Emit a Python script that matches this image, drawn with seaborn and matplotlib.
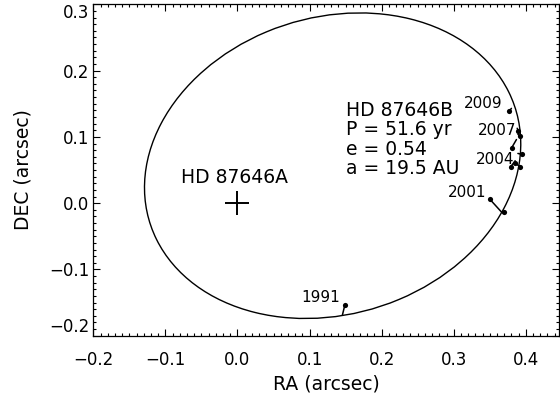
import numpy as np
import pandas as pd
import matplotlib
matplotlib.use("Agg")
import matplotlib.pyplot as plt
from matplotlib.patches import Ellipse
import seaborn as sns

# Наблюдения HD 87646B (RA, DEC в угл. сек) и соответствующие точки орбиты
obs_ra = [0.149, 0.350, 0.370, 0.379, 0.3856, 0.392, 0.394, 0.3804, 0.3895, 0.392, 0.377]
obs_dec = [-0.1535, 0.006, -0.0137, 0.055, 0.061, 0.0553, 0.0738, 0.0836, 0.1094, 0.1006, 0.139]
fit_ra = [0.1456, 0.3665, 0.3685, 0.384, 0.385, 0.385, 0.389, 0.387, 0.388, 0.389, 0.380]
fit_dec = [-0.1686, -0.0137, -0.0155, 0.062, 0.064, 0.060, 0.075, 0.096, 0.113, 0.104, 0.143]

# Подписи эпох
year_labels = ["1991", "2001", "2004", "2007", "2009"]
year_x = [0.143, 0.3455, 0.384, 0.3865, 0.367]
year_y = [-0.142, 0.016, 0.066, 0.110, 0.150]

# Параметры орбиты (эллипс на небе)
orbit_center = (0.132, 0.0565)
orbit_width = 0.5368
orbit_height = 0.4436
orbit_angle = 24.5

info_lines = ["HD 87646B", "P = 51.6 yr", "e = 0.54", "a = 19.5 AU"]
info_y = [0.1319, 0.1025, 0.0731, 0.0437]

sns.set_theme(style="ticks")
plt.rcParams['font.family'] = ['DejaVu Sans']
plt.rcParams.update({"text.color": "black", "axes.labelcolor": "black",
                     "xtick.color": "black", "ytick.color": "black",
                     "axes.edgecolor": "black"})

fig = plt.figure(figsize=(5.6, 3.99), dpi=100)
ax = fig.add_axes([0.1666, 0.1586, 0.8316, 0.8306])

# Орбита
ax.add_patch(Ellipse(orbit_center, orbit_width, orbit_height, angle=orbit_angle,
                     fill=False, color="black", lw=1.0))

# Остатки: линии от наблюдений к орбите
for x0, y0, x1, y1 in zip(obs_ra, obs_dec, fit_ra, fit_dec):
    ax.plot([x0, x1], [y0, y1], color="black", lw=1.1)

df = pd.DataFrame({"ra": obs_ra, "dec": obs_dec})
sns.scatterplot(data=df, x="ra", y="dec", ax=ax, color="black", s=14,
                edgecolor="black", linewidth=0, zorder=3)

# Главная звезда
ax.plot([0.0], [0.0], marker="+", color="black", markersize=17, mew=1.4)
ax.text(-0.078, 0.030, "HD 87646A", fontsize=13.5, ha="left", va="baseline")

for lab, x, y in zip(year_labels, year_x, year_y):
    ax.text(x, y, lab, fontsize=11, ha="right", va="center")

for line, y in zip(info_lines, info_y):
    ax.text(0.15, y, line, fontsize=13.5, ha="left", va="baseline")

ax.set_xlim(-0.2, 0.446)
ax.set_ylim(-0.2, 0.3)
ax.set_xticks([-0.2, -0.1, 0.0, 0.1, 0.2, 0.3, 0.4])
ax.set_yticks([-0.2, -0.1, 0.0, 0.1, 0.2, 0.3])
ax.set_xticklabels(["\u22120.2", "\u22120.1", "0.0", "0.1", "0.2", "0.3", "0.4"])
ax.set_yticklabels(["\u22120.2", "\u22120.1", "0.0", "0.1", "0.2", "0.3"])
ax.xaxis.set_minor_locator(matplotlib.ticker.MultipleLocator(0.01))
ax.yaxis.set_minor_locator(matplotlib.ticker.MultipleLocator(0.01))
ax.tick_params(which="both", direction="in", top=True, right=True, width=0.8, color="black")
ax.tick_params(which="major", length=5)
ax.tick_params(which="minor", length=2.4)
ax.tick_params(axis="x", labelsize=12, pad=11)
ax.tick_params(axis="y", labelsize=12, pad=3)
for sp in ax.spines.values():
    sp.set_linewidth(0.9)
    sp.set_color("black")

ylabels = ax.get_yticklabels()
ylabels[0].set_va("bottom")
ylabels[-1].set_va("top")

ax.set_xlabel("RA (arcsec)", fontsize=13.5, labelpad=4)
ax.set_ylabel("DEC (arcsec)", fontsize=13.5, labelpad=12)

fig.savefig("out.png", dpi=100)
